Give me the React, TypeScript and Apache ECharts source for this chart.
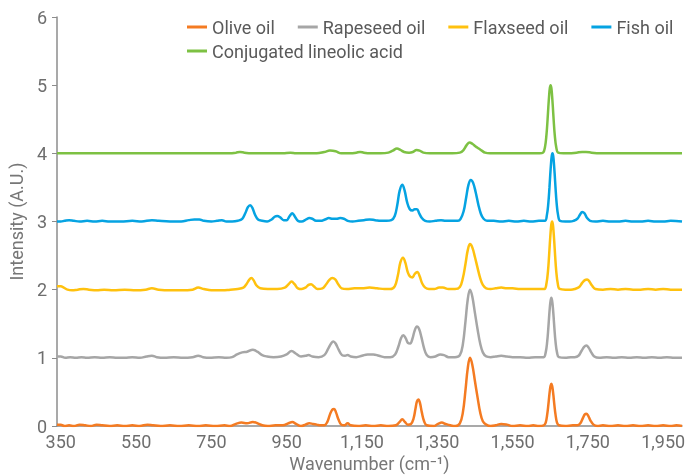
import React, { useEffect, useRef } from "react";
import * as echarts from "echarts";

const seriesNames = ["Olive oil", "Rapeseed oil", "Flaxseed oil", "Fish oil", "Conjugated lineolic acid"];
const seriesColors = ["#F47B22", "#A6A6A6", "#FFC10E", "#05A3E2", "#7DC143"];
const xTickValues = [350, 550, 750, 950, 1150, 1350, 1550, 1750, 1950];
const yTickValues = [0, 1, 2, 3, 4, 5, 6];

const oliveOil = [
  [340,0.02],[350,0.02],[360,0.0],[372,0.01],[385,0.0],[400,0.02],[415,0.01],[430,0.0],[445,0.02],[460,0.01],[480,0.0],[500,0.01],[520,0.0],[540,0.01],[560,0.0],[580,0.02],[595,0.01],[615,0.0],[640,0.01],[665,0.0],[690,0.01],[715,0.0],[735,0.01],[760,0.0],[785,0.01],[800,0.0],[815,0.03],[830,0.05],[845,0.04],[860,0.06],[872,0.04],[885,0.01],[900,0.0],[920,0.01],[940,0.01],[955,0.04],[965,0.06],[975,0.03],[988,0.0],[1000,0.02],[1010,0.04],[1020,0.03],[1030,0.02],[1040,0.01],[1050,0.01],[1058,0.06],[1065,0.17],[1071,0.24],[1076,0.25],[1081,0.2],[1088,0.09],[1095,0.02],[1103,0.01],[1112,0.04],[1120,0.01],[1140,0.0],[1160,0.01],[1180,0.0],[1200,0.01],[1220,0.0],[1240,0.01],[1250,0.06],[1257,0.1],[1264,0.06],[1272,0.02],[1280,0.03],[1287,0.11],[1292,0.25],[1296,0.36],[1300,0.39],[1304,0.34],[1309,0.2],[1315,0.07],[1322,0.01],[1340,0.0],[1352,0.03],[1362,0.05],[1372,0.03],[1385,0.01],[1398,0.0],[1410,0.04],[1418,0.2],[1425,0.53],[1431,0.85],[1437,1.0],[1443,0.9],[1450,0.66],[1457,0.42],[1464,0.2],[1471,0.07],[1480,0.02],[1492,0.0],[1505,0.01],[1520,0.03],[1535,0.02],[1550,0.0],[1570,0.01],[1590,0.0],[1605,0.01],[1620,0.0],[1633,0.01],[1638,0.05],[1642,0.17],[1645,0.31],[1647,0.42],[1649,0.52],[1651,0.59],[1653,0.62],[1655,0.59],[1657,0.52],[1659,0.42],[1661,0.31],[1664,0.17],[1668,0.05],[1673,0.01],[1690,0.0],[1710,0.01],[1722,0.01],[1730,0.04],[1737,0.12],[1742,0.17],[1746,0.18],[1751,0.15],[1757,0.08],[1765,0.02],[1775,0.0],[1790,0.01],[1810,0.0],[1830,0.01],[1850,0.0],[1870,0.01],[1890,0.0],[1910,0.01],[1930,0.0],[1950,0.01],[1970,0.0],[1985,0.01],[2000,0.0]
];

const rapeseedOil = [
  [340,1.02],[350,1.02],[362,1.0],[375,1.01],[390,1.0],[405,1.01],[420,1.0],[440,1.01],[460,1.0],[480,1.01],[500,1.0],[520,1.0],[540,1.01],[560,1.0],[578,1.02],[592,1.03],[605,1.01],[625,1.0],[650,1.01],[675,1.0],[700,1.01],[715,1.03],[728,1.01],[745,1.0],[770,1.01],[790,1.0],[805,1.01],[818,1.05],[832,1.08],[845,1.09],[860,1.12],[872,1.09],[885,1.04],[898,1.02],[915,1.01],[935,1.02],[950,1.05],[963,1.1],[975,1.06],[988,1.02],[1000,1.03],[1008,1.04],[1018,1.02],[1035,1.01],[1050,1.04],[1060,1.13],[1068,1.21],[1074,1.24],[1080,1.21],[1088,1.12],[1097,1.04],[1105,1.03],[1112,1.04],[1120,1.02],[1135,1.01],[1150,1.03],[1165,1.05],[1180,1.05],[1195,1.03],[1210,1.01],[1225,1.01],[1238,1.05],[1247,1.17],[1254,1.29],[1260,1.33],[1266,1.29],[1272,1.22],[1278,1.21],[1284,1.28],[1290,1.4],[1296,1.46],[1302,1.42],[1308,1.3],[1315,1.14],[1322,1.04],[1332,1.01],[1345,1.02],[1358,1.05],[1368,1.04],[1380,1.01],[1397,1.01],[1410,1.04],[1418,1.2],[1425,1.54],[1431,1.86],[1437,2.0],[1443,1.9],[1450,1.66],[1457,1.42],[1464,1.21],[1471,1.08],[1480,1.02],[1492,1.01],[1505,1.02],[1520,1.03],[1535,1.02],[1550,1.01],[1570,1.01],[1590,1.0],[1610,1.01],[1625,1.01],[1633,1.01],[1638,1.08],[1642,1.24],[1645,1.44],[1647,1.6],[1649,1.74],[1651,1.84],[1653,1.88],[1655,1.84],[1657,1.74],[1659,1.6],[1661,1.44],[1664,1.24],[1668,1.08],[1673,1.01],[1690,1.0],[1705,1.01],[1715,1.01],[1725,1.03],[1733,1.1],[1740,1.16],[1746,1.18],[1752,1.15],[1759,1.08],[1767,1.02],[1780,1.0],[1800,1.01],[1820,1.0],[1840,1.01],[1860,1.0],[1880,1.01],[1900,1.0],[1920,1.01],[1940,1.0],[1960,1.01],[1980,1.0],[2000,1.0]
];

const flaxseedOil = [
  [340,2.05],[350,2.05],[358,2.03],[368,2.0],[380,1.99],[395,2.0],[410,2.01],[425,2.0],[445,1.99],[465,2.0],[490,1.99],[520,2.0],[550,1.99],[575,2.0],[592,2.02],[610,2.0],[640,1.99],[670,1.99],[700,2.0],[715,2.03],[730,2.01],[750,1.99],[780,1.99],[800,2.0],[820,2.01],[835,2.03],[843,2.08],[850,2.14],[856,2.17],[862,2.14],[870,2.06],[880,2.02],[900,2.01],[925,2.01],[945,2.03],[955,2.08],[963,2.12],[971,2.08],[980,2.02],[990,2.01],[1000,2.03],[1008,2.07],[1015,2.08],[1022,2.05],[1032,2.01],[1045,2.02],[1055,2.08],[1063,2.14],[1071,2.17],[1079,2.15],[1087,2.08],[1096,2.02],[1110,2.01],[1130,2.02],[1150,2.02],[1170,2.03],[1190,2.02],[1210,2.01],[1225,2.01],[1237,2.05],[1245,2.2],[1252,2.4],[1259,2.47],[1265,2.4],[1272,2.25],[1278,2.19],[1284,2.18],[1290,2.23],[1297,2.26],[1303,2.2],[1310,2.09],[1318,2.03],[1328,2.01],[1342,2.01],[1355,2.03],[1365,2.03],[1380,2.01],[1397,2.01],[1410,2.04],[1418,2.17],[1425,2.38],[1431,2.58],[1437,2.67],[1443,2.62],[1450,2.48],[1457,2.32],[1464,2.17],[1471,2.07],[1480,2.02],[1492,2.01],[1505,2.02],[1520,2.03],[1535,2.02],[1550,2.02],[1570,2.01],[1590,2.01],[1610,2.01],[1627,2.01],[1635,2.01],[1640,2.09],[1644,2.27],[1647,2.5],[1649,2.68],[1651,2.84],[1653,2.96],[1655,3.0],[1657,2.96],[1659,2.84],[1661,2.68],[1663,2.5],[1666,2.27],[1670,2.09],[1675,2.01],[1690,2.0],[1705,2.0],[1715,2.01],[1727,2.04],[1735,2.1],[1742,2.14],[1748,2.15],[1754,2.12],[1761,2.06],[1770,2.01],[1790,2.0],[1810,2.01],[1830,2.0],[1850,2.01],[1870,2.0],[1890,2.0],[1910,2.01],[1930,2.0],[1950,2.01],[1970,2.0],[2000,2.0]
];

const fishOil = [
  [340,3.0],[350,3.0],[360,3.01],[372,3.02],[385,3.01],[400,3.0],[420,3.01],[440,3.0],[460,3.01],[480,3.0],[510,3.0],[540,3.01],[565,3.0],[592,3.02],[610,3.01],[640,3.0],[670,3.0],[690,3.02],[705,3.03],[718,3.03],[730,3.01],[750,3.0],[765,3.01],[778,3.02],[790,3.0],[805,3.0],[820,3.01],[832,3.04],[840,3.12],[847,3.21],[853,3.24],[859,3.2],[866,3.1],[874,3.03],[885,3.01],[898,3.0],[910,3.03],[918,3.07],[925,3.08],[933,3.06],[942,3.02],[950,3.02],[958,3.08],[965,3.12],[972,3.07],[980,3.01],[990,3.0],[1002,3.03],[1010,3.05],[1018,3.04],[1028,3.01],[1040,3.01],[1052,3.03],[1062,3.05],[1072,3.04],[1082,3.04],[1092,3.05],[1102,3.04],[1112,3.01],[1125,3.0],[1140,3.01],[1155,3.02],[1170,3.03],[1185,3.02],[1200,3.01],[1215,3.01],[1228,3.02],[1237,3.08],[1244,3.25],[1250,3.45],[1257,3.54],[1263,3.46],[1270,3.28],[1277,3.18],[1284,3.16],[1290,3.18],[1296,3.18],[1302,3.12],[1309,3.05],[1318,3.01],[1330,3.0],[1345,3.01],[1360,3.02],[1372,3.01],[1390,3.01],[1405,3.01],[1412,3.04],[1420,3.15],[1427,3.36],[1433,3.54],[1439,3.61],[1445,3.57],[1452,3.43],[1459,3.25],[1466,3.11],[1473,3.04],[1482,3.01],[1500,3.01],[1520,3.0],[1540,3.01],[1560,3.0],[1580,3.01],[1600,3.0],[1620,3.01],[1636,3.01],[1641,3.09],[1645,3.27],[1648,3.5],[1650,3.68],[1652,3.84],[1654,3.96],[1656,4.0],[1658,3.96],[1660,3.84],[1662,3.68],[1664,3.5],[1667,3.27],[1671,3.09],[1676,3.01],[1690,3.0],[1702,3.0],[1712,3.01],[1722,3.04],[1729,3.1],[1735,3.14],[1741,3.12],[1748,3.05],[1756,3.01],[1770,3.0],[1790,3.01],[1810,3.0],[1830,3.0],[1850,3.01],[1870,3.0],[1890,3.0],[1910,3.01],[1930,3.0],[1950,3.0],[1970,3.01],[2000,3.0]
];

const conjugatedLineolicAcid = [
  [340,4.0],[350,4.0],[380,4.0],[420,4.0],[460,4.0],[500,4.0],[540,4.0],[580,4.0],[620,4.0],[660,4.0],[700,4.0],[740,4.0],[780,4.0],[800,4.0],[815,4.01],[826,4.02],[838,4.01],[855,4.0],[900,4.0],[940,4.0],[960,4.01],[975,4.0],[1000,4.0],[1030,4.0],[1050,4.02],[1065,4.04],[1080,4.03],[1095,4.0],[1120,4.0],[1135,4.01],[1145,4.02],[1155,4.01],[1170,4.0],[1200,4.0],[1220,4.01],[1232,4.04],[1243,4.07],[1252,4.05],[1262,4.02],[1275,4.01],[1285,4.02],[1295,4.05],[1303,4.04],[1313,4.01],[1330,4.0],[1360,4.0],[1390,4.0],[1410,4.01],[1420,4.05],[1428,4.12],[1436,4.16],[1443,4.14],[1452,4.1],[1460,4.07],[1468,4.04],[1477,4.01],[1490,4.0],[1530,4.0],[1570,4.0],[1605,4.0],[1622,4.0],[1631,4.01],[1636,4.09],[1640,4.27],[1643,4.5],[1645,4.68],[1647,4.84],[1649,4.96],[1651,5.0],[1653,4.96],[1655,4.84],[1657,4.68],[1659,4.5],[1662,4.27],[1666,4.09],[1671,4.01],[1685,4.0],[1700,4.0],[1720,4.01],[1735,4.02],[1745,4.02],[1760,4.01],[1780,4.0],[1820,4.0],[1860,4.0],[1900,4.0],[1940,4.0],[1970,4.0],[2000,4.0]
];

const allData = [oliveOil, rapeseedOil, flaxseedOil, fishOil, conjugatedLineolicAcid];

const FONT = "Roboto, 'Noto Sans', sans-serif";

export default function App() {
  const ref = useRef<HTMLDivElement>(null);
  useEffect(() => {
    if (!ref.current) return;
    const chart = echarts.init(ref.current, null, { renderer: "svg" });
    const legendText = { color: "#5a5a5a", fontSize: 18, fontFamily: FONT };
    chart.setOption({
      animation: false,
      textStyle: { fontFamily: FONT },
      grid: {
        left: 57,
        right: 14,
        top: 17,
        bottom: 50,
        containLabel: false,
        outerBoundsMode: "none",
      },
      legend: [
        {
          data: seriesNames.slice(0, 4),
          left: 187,
          top: 18,
          icon: "rect",
          itemWidth: 20,
          itemHeight: 3,
          itemGap: 23,
          textStyle: legendText,
          padding: 0,
        },
        {
          data: seriesNames.slice(4),
          left: 187,
          top: 42,
          icon: "rect",
          itemWidth: 20,
          itemHeight: 3,
          itemGap: 23,
          textStyle: legendText,
          padding: 0,
        },
      ],
      xAxis: {
        type: "value",
        min: 340,
        max: 2000,
        name: "Wavenumber (cm\u207B\u00B9)",
        nameLocation: "middle",
        nameGap: 28,
        nameTextStyle: { color: "#777777", fontSize: 18, fontFamily: FONT },
        axisLine: { show: true, lineStyle: { color: "#8c8c8c", width: 1.5 } },
        axisTick: { show: false, customValues: xTickValues },
        splitLine: { show: false },
        axisLabel: {
          customValues: xTickValues,
          color: "#6e6e6e",
          fontSize: 18,
          lineHeight: 14,
          fontFamily: FONT,
          margin: 8,
          formatter: (v: number) => v.toLocaleString("en-US"),
        },
      },
      yAxis: {
        type: "value",
        min: 0,
        max: 6,
        interval: 1,
        name: "Intensity (A.U.)",
        nameLocation: "middle",
        nameGap: 30,
        nameTextStyle: { color: "#777777", fontSize: 18, fontFamily: FONT },
        axisLine: { show: true, lineStyle: { color: "#8c8c8c", width: 1.5 } },
        axisTick: { show: true, length: 5, lineStyle: { color: "#8c8c8c" } },
        splitLine: { show: false },
        axisLabel: {
          color: "#6e6e6e",
          fontSize: 18,
          lineHeight: 14,
          fontFamily: FONT,
          margin: 10,
          formatter: (v: number) => (yTickValues.includes(v) ? String(v) : ""),
        },
      },
      series: seriesNames.map((name, i) => ({
        name,
        type: "line",
        data: allData[i],
        showSymbol: false,
        smooth: 0.4,
        color: seriesColors[i],
        lineStyle: { width: 2.5, color: seriesColors[i] },
        z: 2 + i,
      })),
    });
    return () => chart.dispose();
  }, []);
  return (
    <div
      ref={ref}
      style={{ position: "fixed", left: 0, top: 0, width: 696, height: 476 }}
    />
  );
}
